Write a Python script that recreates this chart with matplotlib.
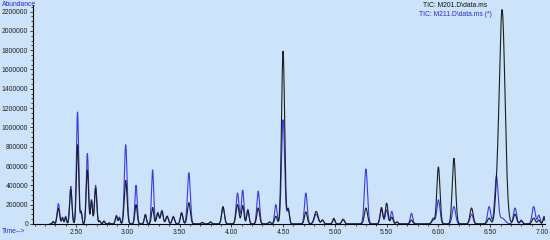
import numpy as np
import matplotlib
matplotlib.use("Agg")
import matplotlib.pyplot as plt
from matplotlib.ticker import MultipleLocator, FuncFormatter

# Peak table: retention time (min), heights, width (sigma, min)
peak_time = [2.28, 2.33, 2.37, 2.40, 2.45, 2.515, 2.55, 2.61, 2.65, 2.69, 2.73, 2.77, 2.82,
             2.89, 2.92, 2.98, 3.08, 3.17, 3.24, 3.29, 3.33, 3.38, 3.44, 3.52, 3.59,
             3.72, 3.80, 3.92, 4.06, 4.11, 4.16, 4.26, 4.37, 4.43, 4.50, 4.55,
             4.72, 4.82, 4.88, 4.99, 5.08, 5.30, 5.45, 5.50, 5.55, 5.60, 5.74,
             5.95, 6.00, 6.15, 6.32, 6.49, 6.56, 6.615, 6.74, 6.80, 6.92, 6.97, 7.02]
m201_height = [25e3, 160e3, 60e3, 70e3, 360e3, 820e3, 120e3, 560e3, 240e3, 370e3, 30e3, 30e3, 10e3,
               80e3, 60e3, 450e3, 200e3, 95e3, 170e3, 110e3, 130e3, 80e3, 70e3, 110e3, 220e3,
               15e3, 20e3, 175e3, 200e3, 190e3, 140e3, 165e3, 20e3, 80e3, 1790e3, 150e3,
               125e3, 130e3, 40e3, 50e3, 45e3, 165e3, 170e3, 215e3, 70e3, 20e3, 40e3,
               40e3, 590e3, 680e3, 165e3, 60e3, 150e3, 2220e3, 100e3, 30e3, 60e3, 40e3, 60e3]
m211_height = [20e3, 210e3, 70e3, 80e3, 390e3, 1160e3, 130e3, 730e3, 250e3, 400e3, 30e3, 30e3, 10e3,
               90e3, 70e3, 820e3, 400e3, 100e3, 560e3, 120e3, 140e3, 80e3, 80e3, 120e3, 530e3,
               15e3, 20e3, 180e3, 320e3, 350e3, 150e3, 340e3, 20e3, 200e3, 1080e3, 160e3,
               320e3, 100e3, 40e3, 60e3, 50e3, 570e3, 150e3, 145e3, 130e3, 20e3, 110e3,
               60e3, 250e3, 180e3, 100e3, 180e3, 490e3, 60e3, 165e3, 40e3, 180e3, 90e3, 80e3]
peak_sigma = [0.008, 0.012, 0.008, 0.008, 0.011, 0.011, 0.008, 0.011, 0.009, 0.011, 0.008, 0.008, 0.008,
              0.010, 0.008, 0.013, 0.011, 0.010, 0.011, 0.012, 0.012, 0.012, 0.012, 0.012, 0.014,
              0.010, 0.010, 0.013, 0.014, 0.012, 0.011, 0.013, 0.010, 0.012, 0.015, 0.011,
              0.013, 0.018, 0.012, 0.011, 0.013, 0.015, 0.013, 0.013, 0.012, 0.010, 0.012,
              0.014, 0.015, 0.016, 0.015, 0.015, 0.016, 0.028, 0.015, 0.012, 0.015, 0.012, 0.010]

t = np.linspace(2.25, 7.03, 3000)
def trace(h):
    y = np.zeros_like(t)
    for c, a, s in zip(peak_time, h, peak_sigma):
        y += a * np.exp(-0.5 * ((t - c) / s) ** 2)
    return y

y201 = trace(m201_height)
y211 = trace(m211_height)

plt.rcParams['font.family'] = ['Liberation Sans', 'DejaVu Sans']
fs = 4.9

bg = '#cde3fa'
fig = plt.figure(figsize=(5.5, 2.4), dpi=100, facecolor=bg)
ax = fig.add_axes([0.06, 0.067, 0.931, 0.913], facecolor=bg)
ax.plot(t, y211, color='#3a3ae6', lw=0.8)
ax.plot(t, y201, color='#1e1e1e', lw=0.8)

ax.set_xlim(2.085, 7.03)
ax.set_ylim(0, 2.27e6)
for s in ['top', 'right']:
    ax.spines[s].set_visible(False)
ax.spines['left'].set_linewidth(0.8)
ax.spines['bottom'].set_linewidth(0.8)

ax.xaxis.set_major_locator(MultipleLocator(0.5))
ax.xaxis.set_minor_locator(MultipleLocator(0.1))
ax.yaxis.set_major_locator(MultipleLocator(200000))
ax.yaxis.set_minor_locator(MultipleLocator(50000))
ax.xaxis.set_major_formatter(FuncFormatter(lambda v, p: f"{v:.2f}"))
ax.yaxis.set_major_formatter(FuncFormatter(lambda v, p: f"{int(round(v))}"))
ax.tick_params(axis='both', which='major', labelsize=fs, length=2.5, width=0.6, pad=1, colors='#222222')
ax.tick_params(axis='both', which='minor', length=1.3, width=0.5)

fig.text(0.004, 0.995, 'Abundance', color='#2a2ad6', fontsize=fs, va='top', ha='left')
fig.text(0.004, 0.035, 'Time-->', color='#2a2ad6', fontsize=fs, va='center', ha='left')
fig.text(0.828, 0.99, 'TIC: M201.D\\data.ms', color='#111111', fontsize=fs, va='top', ha='center')
fig.text(0.828, 0.953, 'TIC: M211.D\\data.ms (*)', color='#2a2ad6', fontsize=fs, va='top', ha='center')

fig.savefig('out.png', dpi=100, facecolor=bg)
